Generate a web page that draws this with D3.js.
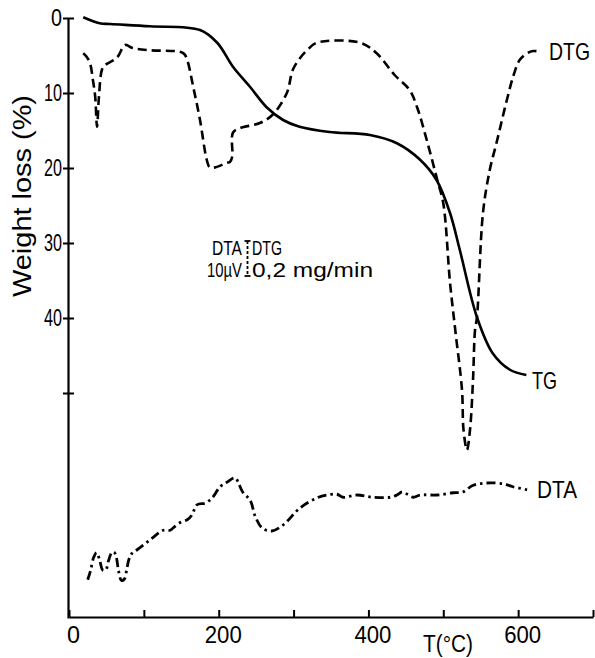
<!DOCTYPE html>
<html>
<head>
<meta charset="utf-8">
<script src="https://cdn.jsdelivr.net/npm/d3@7/dist/d3.min.js"></script>
<style>
  body { margin: 0; background: #fff; }
  svg { display: block; }
  text { font-family: "Liberation Sans", Arial, sans-serif; fill: #000; }
</style>
</head>
<body>
<div id="chart"></div>
<script>
// temperature (°C) / value pairs; y in "weight loss %" units of the left axis
var tgT = [19, 41, 55, 108, 175, 198, 219, 242, 264, 286, 308, 348, 402, 438, 469, 491, 509, 522, 545, 566, 589, 611];
var tgY = [-0.1, 0.7, 0.8, 1.1, 1.6, 3.3, 6.5, 9.2, 11.9, 13.6, 14.5, 15.2, 15.6, 16.7, 18.9, 21.6, 26, 30.9, 39.9, 44.7, 46.9, 47.6];

var dtgT = [19, 23, 28, 32, 35, 37.4, 40, 44, 48, 64, 75, 85, 108, 148, 154, 158, 166, 175, 184, 188, 196, 211, 215, 218, 219, 228, 255, 272, 291, 299, 309, 318, 331, 389, 411, 435, 455, 465, 478, 492, 500, 509, 516, 525, 527, 531.6, 535.7, 539.7, 542.4, 545, 553, 562, 571, 585, 594, 602, 612, 620, 629];
var dtgY = [4.7, 5.1, 6.0, 8.3, 10.5, 14.5, 10.5, 6.9, 6.3, 5.3, 3.6, 4.0, 4.3, 4.5, 4.8, 5.6, 9.2, 13.6, 18.9, 19.9, 19.9, 19.3, 19.2, 18.5, 15.3, 14.7, 14, 12.9, 10, 6.9, 5.3, 4.3, 3.3, 3.3, 4.7, 7.6, 9.6, 11.9, 16.3, 21.6, 24.7, 35.3, 41.6, 49.6, 54.9, 57.6, 54.9, 48.3, 41.6, 39.9, 26, 20.3, 16.7, 10.9, 7.6, 5.6, 4.7, 4.4, 4.5];

var dtaT = [25, 29, 33, 37, 41, 45, 49, 53, 57, 60, 63, 66, 70, 74, 77, 80, 84, 91, 108, 126, 135, 139, 148, 158, 164, 171, 182, 188, 192, 202, 211, 222, 226, 232, 242, 249, 258, 271, 286, 309, 331, 345, 358, 366, 385, 406, 429, 438, 445, 452, 460, 469, 492, 513, 526, 540, 558, 580, 593, 612];
var dtaY = [74.9, 73.6, 71.9, 71.3, 72.3, 73.6, 73.6, 72.3, 71.3, 71.2, 71.8, 73.6, 75.0, 74.8, 73.6, 72.2, 71.4, 70.9, 69.6, 68.3, 68.3, 68, 67.3, 66.9, 66.3, 64.9, 64.7, 64.3, 63.9, 62.5, 61.9, 61.3, 61.9, 63.2, 64.3, 66.5, 68, 68.4, 67.6, 65.3, 64, 63.6, 63.5, 63.9, 63.6, 63.9, 63.9, 63.6, 63.2, 63.5, 63.9, 63.6, 63.6, 63.3, 63.2, 62.3, 62, 62.1, 62.5, 62.9];

var xTicks = [0, 100, 200, 300, 400, 500, 600, 700];
var xLabels = ["0", "", "200", "", "400", "", "600", ""];
var yTicks = [0, 10, 20, 30, 40, 50];
var yLabels = ["0", "10", "20", "30", "40", ""];

var W = 595, H = 658;
var svg = d3.select("#chart").append("svg").attr("width", W).attr("height", H);

var x = d3.scaleLinear().domain([0, 700]).range([69, 593]);
var y = d3.scaleLinear().domain([0, 80]).range([18, 618]);

// squeeze a text into the width it has in the figure
function fit(sel, w) {
    return sel.attr("textLength", w).attr("lengthAdjust", "spacingAndGlyphs");
}

// axes
var xAxis = d3.axisBottom(x).tickValues(xTicks)
    .tickFormat(function(d, i) { return xLabels[i]; })
    .tickSizeInner(-7).tickSizeOuter(0).tickPadding(13);
var gx = svg.append("g").attr("transform", "translate(0," + 617 + ")").call(xAxis);
gx.select(".domain").attr("stroke-width", 2.2);
gx.selectAll(".tick line").attr("stroke-width", 2);
gx.selectAll(".tick text").attr("font-size", 24).attr("dx", 4).attr("dy", "0.55em")
    .each(function(d, i) {
        var s = xLabels[i];
        if (s) fit(d3.select(this), s.length === 1 ? 13 : 37);
    });

var yAxis = d3.axisLeft(y).tickValues(yTicks)
    .tickFormat(function(d, i) { return yLabels[i]; })
    .tickSizeInner(5).tickSizeOuter(0).tickPadding(1);
var gy = svg.append("g").attr("transform", "translate(68,0)").call(yAxis);
gy.select(".domain").attr("stroke-width", 2.2);
gy.selectAll(".tick line").attr("x1", 6).attr("stroke-width", 2);
gy.selectAll(".tick text").attr("font-size", 24)
    .each(function(d, i) {
        var s = yLabels[i];
        if (s) fit(d3.select(this), s.length === 1 ? 11 : 18);
    });

// curves
var line = d3.line()
    .x(function(d) { return x(d[0]); })
    .y(function(d) { return y(d[1]); })
    .curve(d3.curveCatmullRom.alpha(0.5));

function pairs(a, b) { return a.map(function(v, i) { return [v, b[i]]; }); }

svg.append("path").datum(pairs(tgT, tgY))
    .attr("d", line).attr("fill", "none").attr("stroke", "#000")
    .attr("stroke-width", 2.6);

svg.append("path").datum(pairs(dtgT, dtgY))
    .attr("d", line).attr("fill", "none").attr("stroke", "#000")
    .attr("stroke-width", 2.6).attr("stroke-dasharray", "9,5");

svg.append("path").datum(pairs(dtaT, dtaY))
    .attr("d", line).attr("fill", "none").attr("stroke", "#000")
    .attr("stroke-width", 2.8).attr("stroke-dasharray", "9,4,2.5,4");

// curve labels
svg.append("text").attr("transform", "translate(549,60) scale(0.81,1)")
    .attr("font-size", 24).text("DTG");
fit(svg.append("text").attr("x", 532).attr("y", 389).attr("font-size", 24).text("TG"), 25);
fit(svg.append("text").attr("x", 537).attr("y", 498).attr("font-size", 24).text("DTA"), 40);

// axis titles
fit(svg.append("text").attr("x", 423).attr("y", 652)
    .attr("font-size", 23).text("T(°C)"), 50);
fit(svg.append("text").attr("transform", "translate(31,297) rotate(-90)")
    .attr("font-size", 25).text("Weight loss (%)"), 202);

// scale annotation
fit(svg.append("text").attr("x", 212).attr("y", 255).attr("font-size", 20).text("DTA"), 30);
fit(svg.append("text").attr("x", 252).attr("y", 255).attr("font-size", 20).text("DTG"), 30);
fit(svg.append("text").attr("x", 207).attr("y", 277).attr("font-size", 20).text("10µV"), 35);
fit(svg.append("text").attr("x", 252).attr("y", 277).attr("font-size", 20).text("0,2 mg/min"), 121);
var bar = svg.append("g").attr("stroke", "#000").attr("stroke-width", 1.8);
bar.append("line").attr("x1", 247.5).attr("x2", 247.5).attr("y1", 241).attr("y2", 276)
    .attr("stroke-dasharray", "3,2");
bar.append("line").attr("x1", 244.5).attr("x2", 250.5).attr("y1", 241).attr("y2", 241);
bar.append("line").attr("x1", 244.5).attr("x2", 250.5).attr("y1", 276).attr("y2", 276);
</script>
</body>
</html>
